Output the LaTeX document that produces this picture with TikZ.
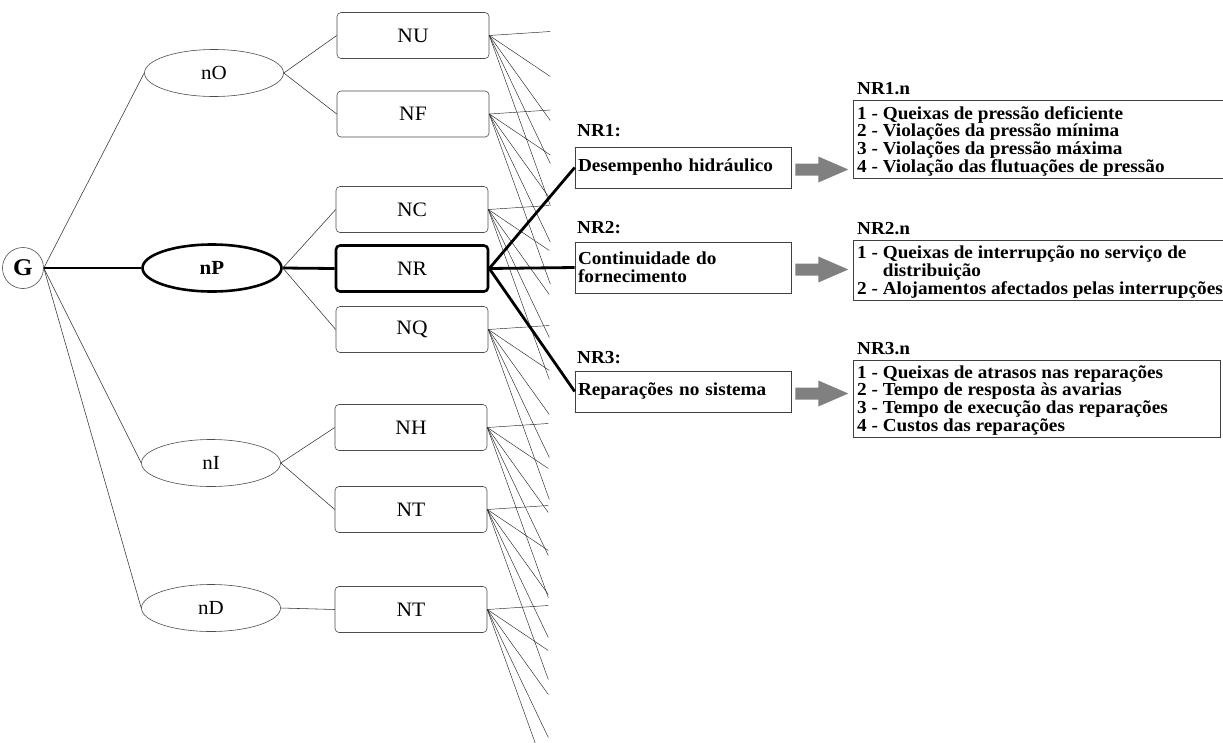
\documentclass[tikz,border=0pt]{standalone}
\usepackage{fontspec}
\setmainfont{Liberation Serif}[FakeStretch=1.05]
\usetikzlibrary{shapes.geometric,calc}

\begin{document}
\begin{tikzpicture}[x=1pt,y=-1pt,
  link/.style={line width=0.55pt, draw=black!80},
  heavy/.style={line width=2.8pt, draw=black},
  fan/.style={line width=0.45pt, draw=black!85},
  oval/.style={ellipse, draw=black!70, line width=0.6pt, minimum width=139pt,
    minimum height=47pt, inner sep=0pt, font=\fontsize{20}{22}\selectfont},
  oval bold/.style={oval, draw=black, line width=2.6pt,
    font=\fontsize{20}{22}\selectfont\bfseries},
  cbox/.style={draw=black!70, line width=0.6pt, rounded corners=4pt,
    minimum width=152pt, minimum height=46pt, inner sep=0pt,
    font=\fontsize{20.5}{22}\selectfont},
  cbox bold/.style={cbox, draw=black, line width=2.6pt},
  rbox/.style={draw=black!75, line width=0.6pt, minimum width=216pt,
    text width=210pt, align=left, inner xsep=3pt, inner ysep=0pt,
    font=\fontsize{18.3}{18}\selectfont\bfseries},
  tag/.style={anchor=base west, inner sep=0pt,
    font=\fontsize{18.3}{18}\selectfont\bfseries},
  listbox/.style={draw=black!75, line width=0.6pt,
    anchor=north west, inner sep=0pt},
  listtext/.style={anchor=west, inner sep=0pt, align=left,
    font=\fontsize{18.3}{17.8}\selectfont\bfseries},
  bigarrow/.style={fill=black!50, draw=none}
]
\useasboundingbox (0,0) rectangle (1223,742);

% root and first level
\node[circle, draw=black!70, line width=0.6pt, minimum size=41pt, inner sep=0pt,
  font=\fontsize{24}{26}\selectfont\bfseries] (G) at (23,268) {G};
\node[oval] (nO) at (214,73) {nO};
\node[oval bold] (nP) at (212,268) {nP};
\node[oval] (nI) at (211,463) {nI};
\node[oval] (nD) at (211,608) {nD};

\draw[link] (G.east) -- (nO.west);
\draw[heavy] (G.east) -- (nP.west);
\draw[link] (G.east) -- (nI.west);
\draw[link] (G.east) -- (nD.west);

% second level
\node[cbox] (NU) at (413,35.5) {NU};
\node[cbox] (NF) at (413,114) {NF};
\node[cbox] (NC) at (412,209.5) {NC};
\node[cbox bold] (NR) at (412,268.5) {NR};
\node[cbox] (NQ) at (412,329.5) {NQ};
\node[cbox] (NH) at (411,427.5) {NH};
\node[cbox] (NTa) at (411,509.5) {NT};
\node[cbox] (NTb) at (411,609.5) {NT};

\draw[link] (nO.east) -- (NU.west);
\draw[link] (nO.east) -- (NF.west);
\draw[link] (nP.east) -- (NC.west);
\draw[heavy] (nP.east) -- (NR.west);
\draw[link] (nP.east) -- (NQ.west);
\draw[link] (nI.east) -- (NH.west);
\draw[link] (nI.east) -- (NTa.west);
\draw[link] (nD.east) -- (NTb.west);

% fans towards the next level
\foreach \b in {NU,NF,NC,NQ,NH,NTa,NTb} {
  \foreach \d [count=\k] in {-4,41,85,128,170} {
    \coordinate (\b-end\k) at ($(\b.east)+(61,\d)$);
    \draw[fan] (\b.east) -- (\b-end\k);
  }
}

% NR criteria
\node[tag] (t1) at (577,136) {NR1:};
\node[tag] (t2) at (577,233) {NR2:};
\node[tag] (t3) at (577,363) {NR3:};

\node[rbox, minimum height=41pt] (R1) at (683,167.5) {Desempenho hidráulico};
\node[rbox, minimum height=51pt] (R2) at (683,267.5) {Continuidade do\\fornecimento};
\node[rbox, minimum height=41pt] (R3) at (683,391.5) {Reparações no sistema};

\draw[heavy] (NR.east) -- (R1.west);
\draw[heavy] (NR.east) -- (R2.west);
\draw[heavy] (NR.east) -- (R3.west);

% block arrows
\foreach \r in {R1,R2,R3} {
  \fill[bigarrow] ([xshift=4pt,yshift=-2pt]\r.east) ++(0,-6) -- ++(23,0) -- ++(0,-7)
    -- ++(30,13) -- ++(-30,13) -- ++(0,-7) -- ++(-23,0) -- cycle;
}

% indicator lists
\node[tag] (l1t) at (857,94) {NR1.n};
\node[listbox, minimum width=380pt, minimum height=78pt] (L1) at (853,100) {};
\node[listtext] (l1) at ([xshift=4pt,yshift=-2pt]L1.west) {1 - Queixas de pressão deficiente\\
  2 - Violações da pressão mínima\\
  3 - Violações da pressão máxima\\
  4 - Violação das flutuações de pressão};

\node[tag] (l2t) at (857,234) {NR2.n};
\node[listbox, minimum width=380pt, minimum height=60pt] (L2) at (853,240) {};
\node[listtext] (l2) at ([xshift=4pt,yshift=-1.5pt]L2.west) {1 - Queixas de interrupção no serviço de\\
  \hphantom{1 - }distribuição\\
  2 - Alojamentos afectados pelas interrupções};

\node[tag] (l3t) at (857,354) {NR3.n};
\node[listbox, minimum width=367pt, minimum height=77pt] (L3) at (853,360) {};
\node[listtext] (l3) at ([xshift=4pt,yshift=-1.5pt]L3.west) {1 - Queixas de atrasos nas reparações\\
  2 - Tempo de resposta às avarias\\
  3 - Tempo de execução das reparações\\
  4 - Custos das reparações};
\end{tikzpicture}
\end{document}
